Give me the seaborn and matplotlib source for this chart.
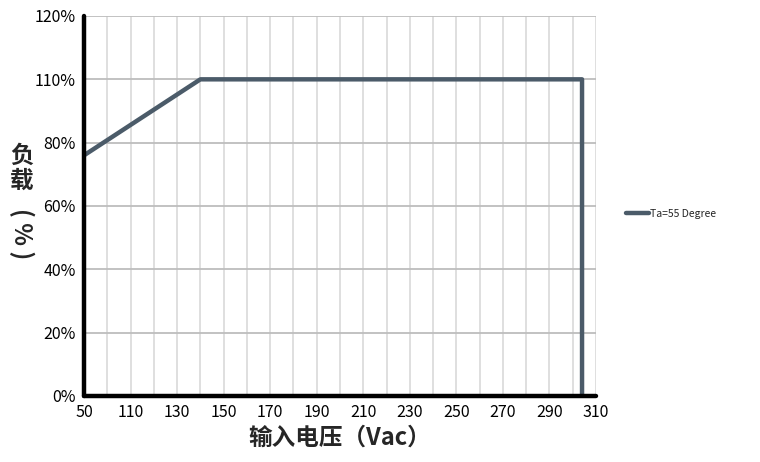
import pandas as pd
import matplotlib.pyplot as plt
import seaborn as sns

# -----------------------------
# Data
# -----------------------------
voltage = [90, 140, 304, 304]          # x positions on the axis grid
load_pos = [76, 100, 100, 0]           # y positions on the axis grid
series_name = "Ta=55 Degree"

x_ticks = [90, 110, 130, 150, 170, 190, 210, 230, 250, 270, 290, 310]
x_labels = ["50", "110", "130", "150", "170", "190", "210", "230", "250", "270", "290", "310"]
y_ticks = [0, 20, 40, 60, 80, 100, 120]
y_labels = ["0%", "20%", "40%", "60%", "80%", "110%", "120%"]

# -----------------------------
# Style
# -----------------------------
sns.set_theme(style="whitegrid")
plt.rcParams["font.family"] = ["Noto Sans CJK SC", "DejaVu Sans"]

LINE_COLOR = "#4b5b69"

df = pd.DataFrame({"voltage": voltage, "load": load_pos, "series": series_name})

fig = plt.figure(figsize=(7.6, 4.62), dpi=100)
ax = fig.add_axes([84 / 760, 66 / 462, 512 / 760, 380 / 462])

# estimator=None keeps the vertical drop at 304 V
sns.lineplot(data=df, x="voltage", y="load", hue="series", sort=False,
             estimator=None, palette=[LINE_COLOR], linewidth=3.2, ax=ax, zorder=3)

ax.set_xlim(90, 310)
ax.set_ylim(0, 120)

# vertical grid every 10 V, horizontal on labelled rows
ax.set_xticks(range(90, 311, 10), minor=True)
ax.set_xticks(x_ticks)
ax.set_xticklabels(x_labels, fontsize=11.5, color="black")
ax.set_yticks(y_ticks)
ax.set_yticklabels(y_labels, fontsize=11.5, color="black")

ax.grid(False)
ax.grid(axis="x", which="both", color="#dcdcdc", linewidth=1.3)
ax.grid(axis="y", which="major", color="#bdbdbd", linewidth=1.3)
ax.tick_params(axis="both", which="both", length=0, pad=6)

for side in ["top", "right"]:
    ax.spines[side].set_visible(False)
for side in ["left", "bottom"]:
    ax.spines[side].set_color("black")
    ax.spines[side].set_linewidth(3.2)
    ax.spines[side].set_capstyle("round")
    ax.spines[side].set_zorder(4)

ax.set_xlabel("输入电压（Vac）", fontsize=17, fontweight="bold", labelpad=3)
ax.set_ylabel("")

# stacked vertical y label
fig.text(22 / 760, 1 - 168 / 462, "负\n载", fontsize=17, fontweight="bold",
         ha="center", va="center", linespacing=1.05)
fig.text(22 / 760, 1 - 234 / 462, "( % )", fontsize=17, fontweight="bold",
         ha="center", va="center", rotation=270)

ax.legend(loc="center left", bbox_to_anchor=(622 / 760, 1 - 214 / 462),
          bbox_transform=fig.transFigure, frameon=False, fontsize=7.5,
          handlelength=2.2, handletextpad=0.1, borderaxespad=0)

fig.savefig("out.png", dpi=100, facecolor="white")
